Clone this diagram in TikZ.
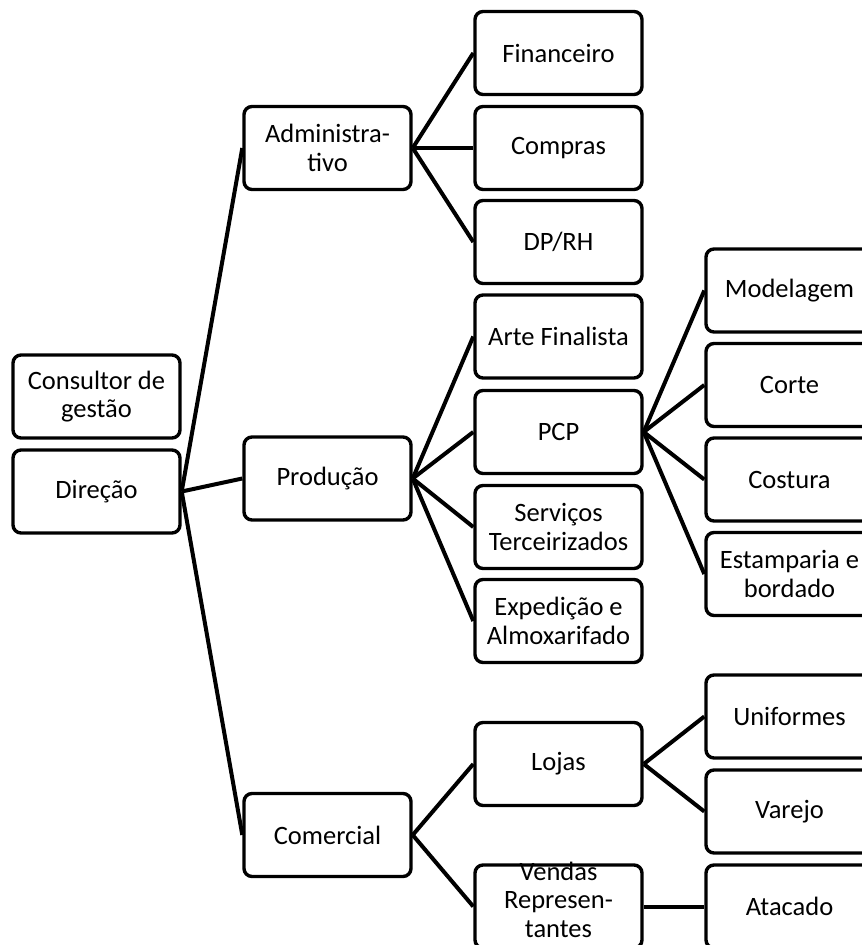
\documentclass[tikz,border=0pt]{standalone}
\usepackage{fontspec}
\setmainfont{Carlito}
\usetikzlibrary{backgrounds}
\tikzset{
  unit/.style={rounded corners=8pt, draw=black, line width=3.4pt, fill=white,
    minimum width=167pt, minimum height=83pt, inner sep=0pt, align=center,
    font=\fontsize{26.5}{28.5}\selectfont},
  link/.style={draw=black, line width=4pt}
}
\begin{document}
\begin{tikzpicture}[x=1pt, y=-1pt]
\useasboundingbox (0,0) rectangle (862,945);
\clip (0,0) rectangle (862,945);

% left column
\node[unit] (consultor) at (96.5,396.5) {Consultor de\\gestão};
\node[unit] (direcao)   at (96.5,491.5) {Direção};

% departments
\node[unit] (adm)  at (327.5,148)   {Administra-\\tivo};
\node[unit] (prod) at (327.5,478.5) {Produção};
\node[unit] (com)  at (327.5,835)   {Comercial};

% sectors
\node[unit] (fin)   at (558.5,53)    {Financeiro};
\node[unit] (comp)  at (558.5,148)   {Compras};
\node[unit] (dprh)  at (558.5,242)   {DP/RH};
\node[unit] (arte)  at (558.5,336.5) {Arte Finalista};
\node[unit] (pcp)   at (558.5,432)   {PCP};
\node[unit] (serv)  at (558.5,527)   {Serviços\\Terceirizados};
\node[unit] (exped) at (558.5,621)   {Expedição e\\Almoxarifado};
\node[unit] (lojas) at (558.5,764)   {Lojas};
\node[unit] (vend)  at (558.5,906.5)
  {\smash{\raisebox{-3pt}{\begin{tabular}{@{}c@{}}Vendas\\Represen-\\tantes\end{tabular}}}};

% production cells and sales channels
\node[unit] (model) at (789.5,290.5) {Modelagem};
\node[unit] (corte) at (789.5,385)   {Corte};
\node[unit] (cost)  at (789.5,479.5) {Costura};
\node[unit] (estam) at (789.5,574)   {Estamparia e\\bordado};
\node[unit] (unif)  at (789.5,716.5) {Uniformes};
\node[unit] (varej) at (789.5,811.5) {Varejo};
\node[unit] (atac)  at (789.5,906.5) {Atacado};

\begin{scope}[on background layer]
  \foreach \t in {adm,prod,com} \draw[link] (direcao.east) -- (\t.west);
  \foreach \t in {fin,comp,dprh} \draw[link] (adm.east) -- (\t.west);
  \foreach \t in {arte,pcp,serv,exped} \draw[link] (prod.east) -- (\t.west);
  \foreach \t in {model,corte,cost,estam} \draw[link] (pcp.east) -- (\t.west);
  \foreach \t in {lojas,vend} \draw[link] (com.east) -- (\t.west);
  \foreach \t in {unif,varej} \draw[link] (lojas.east) -- (\t.west);
  \draw[link] (vend.east) -- (atac.west);
\end{scope}
\end{tikzpicture}
\end{document}
